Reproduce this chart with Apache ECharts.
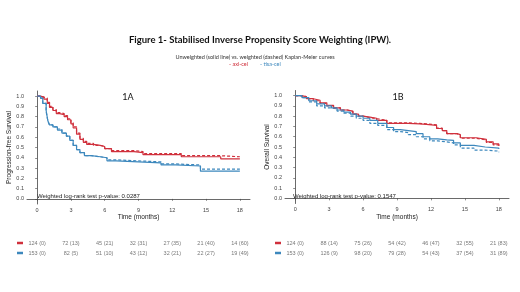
<!DOCTYPE html>
<html>
<head>
<meta charset="utf-8">
<script src="https://cdn.jsdelivr.net/npm/echarts@6/dist/echarts.min.js"></script>
<style>
  html, body { margin: 0; padding: 0; background: #fff; }
  #main { width: 520px; height: 292px; }
</style>
</head>
<body>
<div id="main"></div>
<script>
// 曲线数据 (Kaplan-Meier, 阶梯)
var pfsTime = [0, 0.3, 0.6, 0.9, 1.1, 1.4, 1.7, 2.0, 2.4, 2.7, 3.0, 3.2, 3.5, 3.8, 4.1, 4.4, 5.0, 5.6, 6.0, 6.6, 8.6, 9.4, 12.8, 16.3, 18];
var pfsAxi = [1.0, 0.99, 0.97, 0.93, 0.89, 0.86, 0.83, 0.82, 0.80, 0.77, 0.73, 0.69, 0.63, 0.58, 0.55, 0.53, 0.52, 0.51, 0.49, 0.46, 0.45, 0.43, 0.41, 0.39, 0.39];
var pfsAxiW = [1.0, 0.99, 0.98, 0.94, 0.90, 0.87, 0.84, 0.83, 0.81, 0.78, 0.74, 0.70, 0.64, 0.59, 0.56, 0.54, 0.52, 0.51, 0.49, 0.47, 0.46, 0.44, 0.42, 0.41, 0.41];
var pfsTime2 = [0, 0.3, 0.5, 0.8, 0.95, 1.1, 1.4, 1.8, 2.2, 2.6, 2.9, 3.2, 3.5, 3.8, 4.2, 4.8, 5.6, 6.2, 7.0, 9.0, 11.0, 12.3, 14.5, 18];
var pfsTisa = [1.0, 0.98, 0.93, 0.86, 0.76, 0.72, 0.70, 0.67, 0.64, 0.61, 0.57, 0.52, 0.48, 0.45, 0.42, 0.41, 0.40, 0.37, 0.36, 0.35, 0.33, 0.32, 0.27, 0.27];
var pfsTisaW = [1.0, 0.98, 0.93, 0.85, 0.76, 0.72, 0.70, 0.68, 0.64, 0.61, 0.57, 0.52, 0.48, 0.45, 0.42, 0.41, 0.40, 0.38, 0.37, 0.36, 0.34, 0.33, 0.29, 0.29];

var osTime = [0, 0.5, 1.0, 1.6, 2.2, 2.8, 3.4, 4.0, 4.6, 5.1, 5.6, 6.0, 6.6, 7.2, 8.1, 10.0, 11.0, 11.6, 12.5, 13.0, 13.4, 14.3, 14.6, 16.0, 16.9, 17.5, 18];
var osAxi = [1.0, 0.99, 0.97, 0.955, 0.93, 0.905, 0.88, 0.86, 0.85, 0.82, 0.80, 0.79, 0.78, 0.76, 0.73, 0.725, 0.72, 0.71, 0.68, 0.66, 0.63, 0.62, 0.59, 0.575, 0.55, 0.53, 0.51];
var osAxiW = [1.0, 0.99, 0.97, 0.95, 0.925, 0.90, 0.88, 0.86, 0.845, 0.82, 0.80, 0.785, 0.775, 0.76, 0.735, 0.73, 0.725, 0.715, 0.685, 0.66, 0.63, 0.615, 0.585, 0.57, 0.545, 0.52, 0.50];
var osTime2 = [0, 0.6, 1.2, 1.9, 2.6, 3.2, 3.7, 4.3, 4.9, 5.4, 6.0, 6.6, 7.3, 8.1, 8.7, 9.3, 10.0, 10.7, 11.3, 11.9, 12.6, 13.4, 14.0, 14.6, 15.8, 16.8, 18];
var osTisa = [1.0, 0.98, 0.95, 0.92, 0.90, 0.88, 0.86, 0.84, 0.82, 0.80, 0.78, 0.76, 0.73, 0.69, 0.67, 0.66, 0.65, 0.63, 0.60, 0.58, 0.57, 0.565, 0.54, 0.515, 0.50, 0.49, 0.48];
var osTisaW = [1.0, 0.98, 0.94, 0.90, 0.88, 0.87, 0.85, 0.83, 0.80, 0.78, 0.76, 0.73, 0.71, 0.67, 0.65, 0.64, 0.62, 0.60, 0.58, 0.56, 0.55, 0.54, 0.52, 0.49, 0.47, 0.46, 0.45];

// 风险表 (number at risk)
var riskTimes = [0, 3, 6, 9, 12, 15, 18];
var pfsRiskAxi = ['124 (0)', '72 (13)', '45 (21)', '32 (31)', '27 (35)', '21 (40)', '14 (60)'];
var pfsRiskTisa = ['153 (0)', '82 (5)', '51 (10)', '43 (12)', '32 (21)', '22 (27)', '19 (49)'];
var osRiskAxi = ['124 (0)', '88 (14)', '75 (26)', '54 (42)', '46 (47)', '32 (55)', '21 (83)'];
var osRiskTisa = ['153 (0)', '126 (9)', '98 (20)', '79 (28)', '54 (43)', '37 (54)', '31 (89)'];

var xTicks = [0, 3, 6, 9, 12, 15, 18];
var yTicks = [0, 0.1, 0.2, 0.3, 0.4, 0.5, 0.6, 0.7, 0.8, 0.9, 1.0];

var RED = '#d0303c';
var BLUE = '#3d88bd';
var FONT = 'Liberation Sans';

function pairs(t, s) {
    return t.map(function (v, i) { return [v, s[i]]; });
}

function riskData(row, labels) {
    return riskTimes.map(function (t, i) { return [t, row, labels[i]]; });
}

var myChart = echarts.init(document.getElementById('main'), null, { renderer: 'canvas' });

function kmX(grid, name) {
    return {
        type: 'value', gridIndex: grid, min: -0.9, max: 18.9,
        name: name, nameLocation: 'middle', nameGap: 9,
        nameTextStyle: { fontFamily: FONT, fontSize: 6.5, color: '#222' },
        axisLine: { show: true, lineStyle: { color: '#444', width: 0.8 } },
        axisTick: { show: true, length: 2, customValues: xTicks, lineStyle: { color: '#444', width: 0.6 } },
        axisLabel: { customValues: xTicks, fontFamily: FONT, fontSize: 5.5, color: '#444', margin: 3 },
        splitLine: { show: false }
    };
}

function kmY(grid, name) {
    return {
        type: 'value', gridIndex: grid, min: -0.05, max: 1.05,
        name: name, nameLocation: 'middle', nameGap: 14,
        nameTextStyle: { fontFamily: FONT, fontSize: 6.5, color: '#222' },
        axisLine: { show: true, lineStyle: { color: '#444', width: 0.8 } },
        axisTick: { show: true, length: 2, customValues: yTicks, lineStyle: { color: '#444', width: 0.6 } },
        axisLabel: {
            customValues: yTicks, fontFamily: FONT, fontSize: 5.5, color: '#444', margin: 3,
            formatter: function (v) { return v.toFixed(1); }
        },
        splitLine: { show: false }
    };
}

function tableX(grid) {
    return {
        type: 'value', gridIndex: grid, min: -0.9, max: 18.9,
        axisLine: { show: false }, axisTick: { show: false }, axisLabel: { show: false }, splitLine: { show: false }
    };
}

function tableY(grid) {
    return {
        type: 'category', gridIndex: grid, data: ['axi-cel', 'tisa-cel'], inverse: true,
        axisLine: { show: false }, axisTick: { show: false }, splitLine: { show: false },
        axisLabel: {
            margin: 4, interval: 0, hideOverlap: false,
            formatter: function (v) { return v === 'axi-cel' ? '{a|}' : '{b|}'; },
            rich: {
                a: { backgroundColor: RED, width: 6, height: 2.5 },
                b: { backgroundColor: BLUE, width: 6, height: 2.5 }
            }
        }
    };
}

function km(xi, data, color, dashed) {
    return {
        type: 'line', step: 'end', xAxisIndex: xi, yAxisIndex: xi,
        data: data, showSymbol: false, symbol: 'none', silent: true,
        lineStyle: { color: color, width: 1.2, type: dashed ? [3, 2] : 'solid' }
    };
}

function risk(xi, data) {
    return {
        type: 'scatter', xAxisIndex: xi, yAxisIndex: xi, symbolSize: 0, silent: true,
        data: data,
        label: {
            show: true, position: 'inside', fontFamily: FONT, fontSize: 5.5, color: '#555',
            formatter: function (p) { return p.value[2]; }
        }
    };
}

var option = {
    backgroundColor: '#fff',
    animation: false,
    grid: [
        { left: 27, width: 223, top: 91, height: 113 },
        { left: 285, width: 224, top: 90.5, height: 113 },
        { left: 27, width: 223, top: 238, height: 20 },
        { left: 285, width: 224, top: 238, height: 20 }
    ],
    xAxis: [kmX(0, 'Time (months)'), kmX(1, 'Time (months)'), tableX(2), tableX(3)],
    yAxis: [kmY(0, 'Progression-free Survival'), kmY(1, 'Overall Survival'), tableY(2), tableY(3)],
    graphic: [
        { type: 'text', left: 'center', top: 35, style: { text: 'Figure 1- Stabilised Inverse Propensity Score Weighting (IPW).', font: 'bold 9.5px Lato', fill: '#111' } },
        { type: 'text', x: 255, y: 57, style: { text: 'Unweighted (solid line) vs. weighted (dashed) Kaplan-Meier curves', font: '5.5px Lato', fill: '#333', align: 'center', verticalAlign: 'middle' } },
        { type: 'text', x: 229, y: 64, style: { text: '- axi-cel', font: '5.5px Lato', fill: RED, verticalAlign: 'middle' } },
        { type: 'text', x: 260, y: 64, style: { text: '- tisa-cel', font: '5.5px Lato', fill: BLUE, verticalAlign: 'middle' } },
        { type: 'text', x: 128, y: 97, style: { text: '1A', font: '9px Lato', fill: '#111', align: 'center', verticalAlign: 'middle' } },
        { type: 'text', x: 398, y: 97, style: { text: '1B', font: '9px Lato', fill: '#111', align: 'center', verticalAlign: 'middle' } },
        { type: 'text', x: 37, y: 196, style: { text: 'Weighted log-rank test p-value: 0.0287', font: '6px Liberation Sans', fill: '#222', verticalAlign: 'middle' } },
        { type: 'text', x: 293, y: 196, style: { text: 'Weighted log-rank test p-value: 0.1547', font: '6px Liberation Sans', fill: '#222', verticalAlign: 'middle' } }
    ],
    series: [
        km(0, pairs(pfsTime, pfsAxiW), RED, true),
        km(0, pairs(pfsTime2, pfsTisaW), BLUE, true),
        km(0, pairs(pfsTime, pfsAxi), RED, false),
        km(0, pairs(pfsTime2, pfsTisa), BLUE, false),
        km(1, pairs(osTime, osAxiW), RED, true),
        km(1, pairs(osTime2, osTisaW), BLUE, true),
        km(1, pairs(osTime, osAxi), RED, false),
        km(1, pairs(osTime2, osTisa), BLUE, false),
        risk(2, riskData(0, pfsRiskAxi).concat(riskData(1, pfsRiskTisa))),
        risk(3, riskData(0, osRiskAxi).concat(riskData(1, osRiskTisa)))
    ]
};

myChart.setOption(option);
</script>
</body>
</html>
